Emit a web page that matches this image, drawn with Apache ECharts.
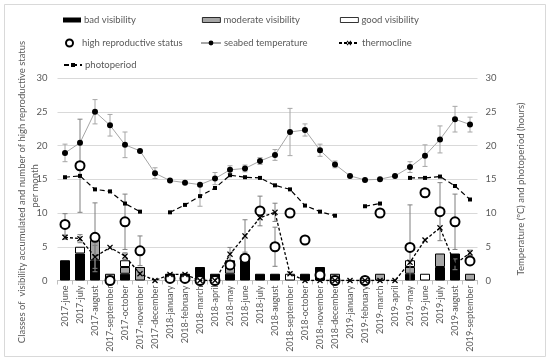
<!DOCTYPE html>
<html><head><meta charset="utf-8">
<script src="https://cdn.jsdelivr.net/npm/echarts@6/dist/echarts.min.js"></script>
<style>html,body{margin:0;padding:0;background:#fff}#c{width:550px;height:363px}</style>
</head><body><div id="c"></div>
<script>
const categories = ['2017-june','2017-july','2017-august','2017-september','2017-october','2017-november','2017-december','2018-january','2018-february','2018-march','2018-april','2018-may','2018-june','2018-july','2018-august','2018-september','2018-october','2018-november','2018-december','2019-january','2019-february','2019-march','2019-april','2019-may','2019-june','2019-july','2019-august','2019-september'];
const badVisibility      = [3,4,3,0,1,0,0,1,1,2,1,1,3,1,1,0,1,2,0,0,0,0,0,1,0,2,4,0];
const moderateVisibility = [0,0,3,1,1,2,0,0,0,0,0,1,0,0,0,0,0,0,1,0,0,1,0,1,0,2,0,1];
const goodVisibility     = [0,1,0,0,1,0,0,0,0,0,0,1,0,0,0,1,0,0,0,0,0,0,0,1,1,0,0,0];
const highReproductive   = [8.3,17.0,6.4,0,8.7,4.4,null,0.3,0.3,0,0,2.3,3.3,10.3,5.0,10.0,6.0,0.8,0,null,0,10.0,null,4.9,13.0,10.2,8.7,2.9];
const highReproductiveErr= [1.6,6.9,5.1,null,4.1,2.2,null,null,null,null,null,null,null,2.2,2.9,null,null,null,null,null,null,null,null,6.3,null,4.3,4.1,null];
const seabedTemperature  = [18.9,20.4,25.0,23.0,20.1,19.2,15.9,14.8,14.5,14.2,15.1,16.4,16.6,17.7,18.6,22.0,22.3,19.3,17.2,15.5,14.9,15.0,15.5,16.8,18.5,20.9,23.9,23.1];
const seabedTemperatureErr=[1.3,null,1.8,1.6,1.9,null,0.8,null,null,null,0.9,0.6,0.5,0.5,0.8,3.5,0.9,0.9,0.5,null,null,null,null,0.8,1.6,2.0,1.9,1.1];
const thermocline        = [6.4,6.2,3.5,4.9,3.6,1.0,0,0.9,0.9,0,0,3.9,6.6,9.3,10.1,1.0,0,0,0,0,0,0,0,2.7,6.0,7.8,2.4,4.1];
const thermoclineErr     = [0.3,0.6,1.7,null,0.5,null,null,null,null,null,null,1.0,2.4,null,1.35,null,null,null,null,null,null,null,null,null,null,null,0.8,0.4];
const photoperiod        = [15.3,15.5,13.5,13.2,11.4,10.2,null,10.1,11.2,12.5,13.7,15.6,15.3,15.2,14.1,13.5,11.1,10.2,9.6,null,11.0,11.4,null,15.2,15.2,15.4,14.0,12.0];
const photoperiodErr     = [null,null,null,null,null,null,null,null,null,1.5,null,null,null,null,null,null,null,null,null,null,null,null,null,null,null,null,null,null];
const yTicks = {min:0, max:30, interval:5};

const FONT = 'Lato';
const TXT = '#595959';
const X_PATH = 'path://M0,1.5L1.5,0L5,3.5L8.5,0L10,1.5L6.5,5L10,8.5L8.5,10L5,6.5L1.5,10L0,8.5L3.5,5Z';

function errData(vals, errs){
  const out=[];
  vals.forEach((v,i)=>{ if(v!=null && errs[i]!=null) out.push([i, v-errs[i], v+errs[i]]); });
  return out;
}
function errSeries(name, vals, errs, color, yIdx){
  return {
    type:'custom', name:name, yAxisIndex:yIdx, z:2, silent:true, clip:true,
    renderItem:function(params, api){
      const x=api.value(0);
      const lo=api.coord([x, api.value(1)]);
      const hi=api.coord([x, api.value(2)]);
      const w=2.5;
      const st={stroke:color, lineWidth:1};
      return {type:'group', children:[
        {type:'line', shape:{x1:lo[0],y1:lo[1],x2:hi[0],y2:hi[1]}, style:st},
        {type:'line', shape:{x1:lo[0]-w,y1:lo[1],x2:lo[0]+w,y2:lo[1]}, style:st},
        {type:'line', shape:{x1:hi[0]-w,y1:hi[1],x2:hi[0]+w,y2:hi[1]}, style:st}
      ]};
    },
    data: errData(vals, errs)
  };
}
const nz = a => a.map(v => v ? v : '-');

function leg(name, left, top, w, h, extra){
  return Object.assign({data:[name], left:left, top:top, itemWidth:w, itemHeight:h, padding:0, itemGap:0,
    textStyle:{fontFamily:FONT, fontSize:9.5, color:TXT, padding:[0,0,0,-2]}}, extra||{});
}

const chart = echarts.init(document.getElementById('c'), null, {renderer:'canvas'});
chart.setOption({
  animation:false,
  backgroundColor:'#fff',
  textStyle:{fontFamily:FONT},
  grid:{left:57.5, right:72.5, top:78, bottom:82.5, containLabel:false},
  legend:[
    leg('bad visibility', 63, 15, 18, 5, {icon:'rect', itemStyle:{borderWidth:0}}),
    leg('moderate visibility', 202, 15, 18, 5, {icon:'rect', itemStyle:{borderWidth:0.8, borderColor:'#000'}}),
    leg('good visibility', 340, 15, 18, 5, {icon:'rect', itemStyle:{borderWidth:0.8, borderColor:'#000'}}),
    leg('high reproductive status', 65, 38, 7, 7, {icon:'circle', itemStyle:{color:'#fff', borderColor:'#000', borderWidth:2, opacity:1}, textStyle:{fontFamily:FONT, fontSize:9.5, color:TXT, padding:[0,0,0,4]}}),
    leg('seabed temperature', 200, 38, 20, 6),
    leg('thermocline', 338, 38, 20, 6),
    leg('photoperiod', 63, 60, 18, 5)
  ],
  xAxis:{type:'category', data:categories, boundaryGap:true,
    axisLine:{lineStyle:{color:'#bfbfbf'}},
    axisTick:{show:true, length:4, lineStyle:{color:'#bfbfbf'}},
    axisLabel:{rotate:90, fontSize:9, color:TXT, fontFamily:FONT, margin:5, interval:0}},
  yAxis:[
    {type:'value', min:yTicks.min, max:yTicks.max, interval:yTicks.interval,
     axisLabel:{fontSize:9.5, color:TXT, fontFamily:FONT, margin:10},
     splitLine:{lineStyle:{color:'#d9d9d9'}}, axisLine:{show:false}, axisTick:{show:false}},
    {type:'value', min:yTicks.min, max:yTicks.max, interval:yTicks.interval, position:'right',
     axisLabel:{fontSize:9.5, color:TXT, fontFamily:FONT, margin:8},
     splitLine:{show:false}, axisLine:{show:false}, axisTick:{show:false}}
  ],
  graphic:[
    {type:'rect', silent:true, z:-10, shape:{x:4.5,y:4.5,width:541,height:352},
     style:{fill:null, stroke:'#d9d9d9', lineWidth:1}},
    {type:'text', silent:true, x:22, y:192, rotation:Math.PI/2,
     style:{text:'Classes of  visibility accumulated and number of high reproductive status', fill:TXT,
       font:'9.5px '+FONT, textAlign:'center', textVerticalAlign:'middle'}},
    {type:'text', silent:true, x:35, y:186, rotation:Math.PI/2,
     style:{text:'per month', fill:TXT, font:'9.5px '+FONT, textAlign:'center', textVerticalAlign:'middle'}},
    {type:'text', silent:true, x:521, y:189, rotation:Math.PI/2,
     style:{text:'Temperature (ºC) and photoperiod (hours)', fill:TXT, font:'9.5px '+FONT, textAlign:'center', textVerticalAlign:'middle'}}
  ],
  series:[
    {name:'bad visibility', type:'bar', stack:'vis', barWidth:10, z:1, data:nz(badVisibility),
     itemStyle:{color:'#000', borderColor:'#000', borderWidth:1}},
    {name:'moderate visibility', type:'bar', stack:'vis', barWidth:10, z:1, data:nz(moderateVisibility),
     itemStyle:{color:'#a6a6a6', borderColor:'#000', borderWidth:1}},
    {name:'good visibility', type:'bar', stack:'vis', barWidth:10, z:1, data:nz(goodVisibility),
     itemStyle:{color:'#fff', borderColor:'#000', borderWidth:1}},
    errSeries('errRepro', highReproductive, highReproductiveErr, '#7f7f7f', 0),
    errSeries('errSeabed', seabedTemperature, seabedTemperatureErr, '#a6a6a6', 1),
    errSeries('errThermo', thermocline, thermoclineErr, '#7f7f7f', 0),
    errSeries('errPhoto', photoperiod, photoperiodErr, '#a6a6a6', 1),
    {name:'high reproductive status', type:'scatter', z:3, data:highReproductive.map(v=>v==null?'-':v),
     symbol:'circle', symbolSize:9,
     itemStyle:{color:'#fff', borderColor:'#000', borderWidth:2, opacity:1}},
    {name:'seabed temperature', type:'line', yAxisIndex:1, z:4, data:seabedTemperature,
     symbol:'circle', symbolSize:6, showAllSymbol:true,
     itemStyle:{color:'#000'}, lineStyle:{color:'#a6a6a6', width:1}},
    {name:'thermocline', type:'line', z:5, data:thermocline,
     symbol:X_PATH, symbolSize:6, showAllSymbol:true,
     itemStyle:{color:'#000'}, lineStyle:{color:'#000', width:1.3, type:[3,2]}},
    {name:'photoperiod', type:'line', yAxisIndex:1, z:4, data:photoperiod,
     symbol:'rect', symbolSize:4, showAllSymbol:true,
     itemStyle:{color:'#000'}, lineStyle:{color:'#000', width:1.2, type:[5,3]}}
  ]
});
</script></body></html>
